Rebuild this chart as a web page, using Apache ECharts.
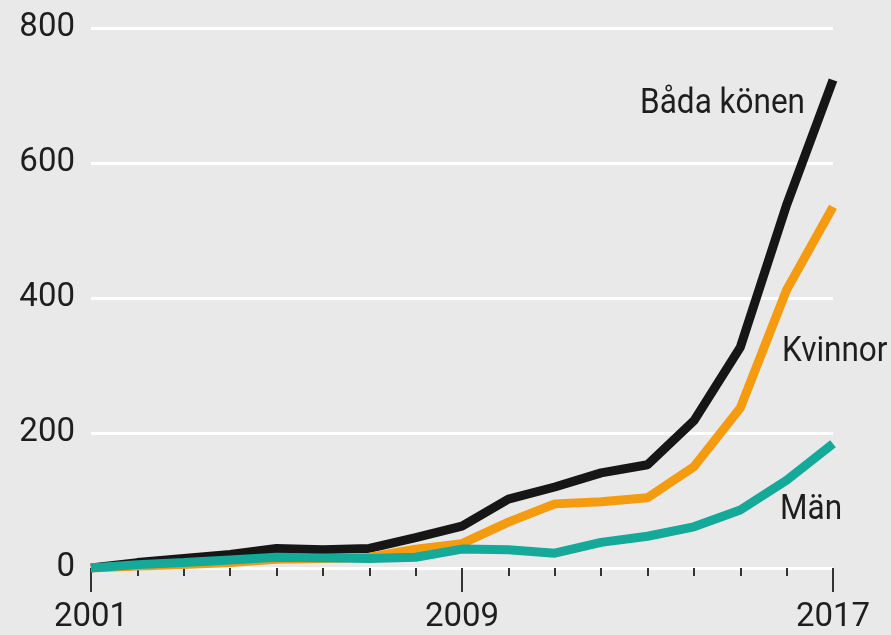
<!DOCTYPE html>
<html><head><meta charset="utf-8">
<script src="https://cdn.jsdelivr.net/npm/echarts@6/dist/echarts.min.js"></script>
<style>html,body{margin:0;padding:0;background:#e9e9e9}#c{width:891px;height:635px}</style>
</head><body><div id="c"></div>
<script>
const years = ['2001','2002','2003','2004','2005','2006','2007','2008','2009','2010','2011','2012','2013','2014','2015','2016','2017'];
const badaKonen = [0, 8, 14, 20, 29, 27, 29, 45, 62, 102, 120, 141, 153, 218, 327, 538, 723];
const kvinnor   = [0, 3, 5, 8, 13, 14, 16, 28, 36, 68, 95, 98, 104, 150, 237, 412, 535];
const man       = [0, 5, 8, 12, 16, 15, 14, 16, 28, 27, 22, 38, 47, 61, 86, 130, 184];
const yTicks = [0, 200, 400, 600, 800];
const seriesNames = ['Båda könen', 'Kvinnor', 'Män'];

const numFont = 'Roboto, "Liberation Sans", sans-serif';
const txtFont = 'Roboto, sans-serif';
const chart = echarts.init(document.getElementById('c'), null, {renderer: 'canvas'});
chart.setOption({
  backgroundColor: '#e9e9e9',
  animation: false,
  grid: {left: 91, right: 58, top: 28, bottom: 67, containLabel: false},
  xAxis: [{
    type: 'category', data: years, boundaryGap: false,
    axisLine: {show: false},
    axisTick: {show: true, interval: 0, length: 8, lineStyle: {color: '#333', width: 2}},
    axisLabel: {show: false},
    splitLine: {show: false}
  }, {
    type: 'category', data: years, boundaryGap: false, position: 'bottom',
    axisLine: {show: false},
    axisTick: {show: true, interval: 7, length: 24, lineStyle: {color: '#333', width: 2}},
    axisLabel: {show: true, interval: 7, margin: 33, fontSize: 33, color: '#1e1e1e', fontFamily: numFont},
    splitLine: {show: false}
  }],
  yAxis: {
    type: 'value', min: yTicks[0], max: yTicks[yTicks.length-1], interval: 200,
    axisLine: {show: false}, axisTick: {show: false},
    axisLabel: {margin: 16, fontSize: 33, color: '#1e1e1e', fontFamily: numFont},
    splitLine: {show: true, lineStyle: {color: '#ffffff', width: 3}}
  },
  series: [
    {name: seriesNames[0], type: 'line', data: badaKonen, showSymbol: false, lineStyle: {color: '#161616', width: 9}, z: 2},
    {name: seriesNames[1], type: 'line', data: kvinnor, showSymbol: false, lineStyle: {color: '#f59b10', width: 9}, z: 3},
    {name: seriesNames[2], type: 'line', data: man, showSymbol: false, lineStyle: {color: '#14a998', width: 9}, z: 4}
  ],
  graphic: [
    {type: 'text', x: 805, y: 104, scaleX: 0.9, style: {text: seriesNames[0], font: '35px ' + txtFont, fill: '#1e1e1e', textAlign: 'right', textVerticalAlign: 'middle'}},
    {type: 'text', x: 782, y: 352, scaleX: 0.9, style: {text: seriesNames[1], font: '35px ' + txtFont, fill: '#1e1e1e', textAlign: 'left', textVerticalAlign: 'middle'}},
    {type: 'text', x: 780, y: 510, scaleX: 0.9, style: {text: seriesNames[2], font: '35px ' + txtFont, fill: '#1e1e1e', textAlign: 'left', textVerticalAlign: 'middle'}}
  ]
});
</script></body></html>
